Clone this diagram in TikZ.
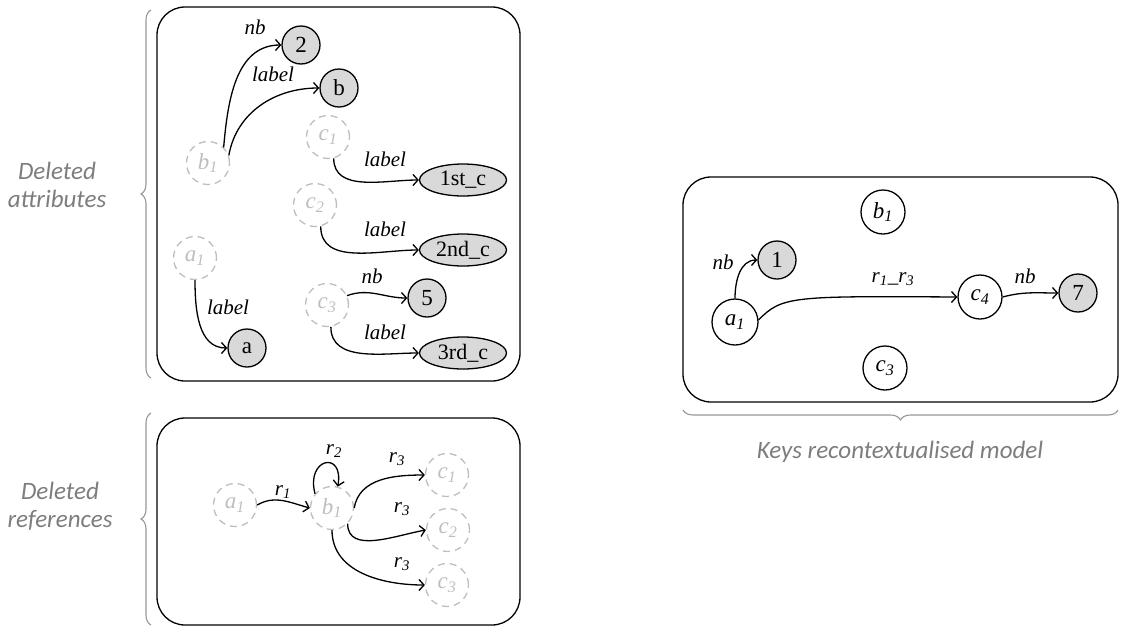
\documentclass[tikz,border=0pt]{standalone}
\usepackage{fontspec}
\setmainfont{Liberation Serif}
\newfontfamily\calfont{Carlito}
\usetikzlibrary{arrows.meta,shapes.geometric,decorations.pathreplacing}
\definecolor{lgray}{RGB}{217,217,217}
\definecolor{dgray}{RGB}{190,190,190}
\definecolor{bgray}{RGB}{150,150,150}
\definecolor{tgray}{RGB}{125,125,125}
\begin{document}
\begin{tikzpicture}[x=1pt,y=1pt,
  box/.style={draw=black,line width=1.3pt,rounded corners=28pt},
  brc/.style={draw=bgray,line width=1.1pt,decorate,decoration={brace,amplitude=10pt}},
  side/.style={font=\fontsize{25}{28}\selectfont\calfont\itshape,text=tgray,align=center},
  val/.style={circle,draw=black,line width=1.3pt,fill=lgray,minimum size=38pt,inner sep=0pt,font=\fontsize{23}{24}\selectfont},
  ell/.style={ellipse,draw=black,line width=1.3pt,fill=lgray,minimum width=87pt,minimum height=32pt,inner sep=0pt,font=\fontsize{22}{24}\selectfont},
  del/.style={circle,draw=dgray,line width=1.3pt,dash pattern=on 7pt off 5pt,minimum size=43pt,inner sep=0pt,text=dgray,font=\fontsize{23}{24}\selectfont\itshape},
  obj/.style={circle,draw=black,line width=1.3pt,minimum size=44pt,inner sep=0pt,font=\fontsize{23}{24}\selectfont\itshape},
  edge/.style={draw=black,line width=1.3pt,-{Straight Barb[length=5pt,width=11pt]}},
  lbl/.style={font=\fontsize{21}{22}\selectfont\itshape,inner sep=0pt}
]
\useasboundingbox (0,0) rectangle (1126,-627);

% containers
\draw[box] (157,-7) rectangle (520,-381);
\draw[box] (157,-418) rectangle (520,-625);
\draw[box] (683,-177) rectangle (1118,-402);

% braces
\draw[brc] (151,-378) -- (151,-10);
\draw[brc] (151,-625) -- (151,-413);
\draw[brc] (1118,-410) -- (683,-410);

\node[side] (tattr) at (57,-185) {Deleted\\attributes};
\node[side] (tref) at (60,-506) {Deleted\\references};
\node[side] (tkeys) at (900,-452) {Keys recontextualised model};

% ---- deleted attributes
\node[del] (ab1) at (208,-163) {b\textsubscript{1}};
\node[val] (a2) at (301,-45) {2};
\node[val] (ab) at (339,-88) {b};
\node[del] (ac1) at (328,-137) {c\textsubscript{1}};
\node[ell] (a1st) at (463,-180) {1st\_c};
\node[del] (ac2) at (315,-205) {c\textsubscript{2}};
\node[ell] (a2nd) at (463,-250) {2nd\_c};
\node[del] (aa1) at (195,-258) {a\textsubscript{1}};
\node[val] (aa) at (247,-348) {a};
\node[del] (ac3) at (327,-305) {c\textsubscript{3}};
\node[val] (a5) at (427,-298) {5};
\node[ell] (a3rd) at (463,-353) {3rd\_c};

\draw[edge] (ab1.45) to[out=85,in=180] (a2.west);
\draw[edge] (ab1.20) to[out=80,in=180] (ab.west);
\draw[edge] (ac1.285) to[out=270,in=180] (a1st.west);
\draw[edge] (ac2.285) to[out=270,in=180] (a2nd.west);
\draw[edge] (aa1.south) to[out=270,in=180] (aa.west);
\draw[edge] (ac3.25) to[out=20,in=180] (a5.west);
\draw[edge] (ac3.280) to[out=270,in=180] (a3rd.west);

\node[lbl] (l1) at (255,-27) {nb};
\node[lbl] (l2) at (273,-74) {label};
\node[lbl] (l3) at (385,-159) {label};
\node[lbl] (l4) at (385,-229) {label};
\node[lbl] (l5) at (228,-307) {label};
\node[lbl] (l6) at (372,-276) {nb};
\node[lbl] (l7) at (385,-332) {label};

% ---- deleted references
\node[del] (ra1) at (235,-505) {a\textsubscript{1}};
\node[del] (rb1) at (332,-508) {b\textsubscript{1}};
\node[del] (rc1) at (447,-475) {c\textsubscript{1}};
\node[del] (rc2) at (448,-530) {c\textsubscript{2}};
\node[del] (rc3) at (447,-585) {c\textsubscript{3}};

\draw[edge] (ra1.east) to[out=30,in=165] (rb1.west);
\draw[edge] (rb1.140) to[out=105,in=80,looseness=4] (rb1.75);
\draw[edge] (rb1.east) to[out=80,in=180] (rc1.west);
\draw[edge] (rb1.315) to[out=270,in=190] (rc2.west);
\draw[edge] (rb1.south) to[out=270,in=180] (rc3.west);

\node[lbl] (m1) at (283,-492) {r\textsubscript{1}};
\node[lbl] (m2) at (334,-451) {r\textsubscript{2}};
\node[lbl] (m3) at (397,-459) {r\textsubscript{3}};
\node[lbl] (m4) at (402,-509) {r\textsubscript{3}};
\node[lbl] (m5) at (402,-564) {r\textsubscript{3}};

% ---- keys recontextualised model
\node[obj] (kb1) at (883,-212) {b\textsubscript{1}};
\node[val] (k1) at (777,-260) {1};
\node[obj,minimum size=46pt] (ka1) at (735,-322) {a\textsubscript{1}};
\node[obj] (kc4) at (980,-297) {c\textsubscript{4}};
\node[val] (k7) at (1078,-293) {7};
\node[obj] (kc3) at (885,-368) {c\textsubscript{3}};

\draw[edge] (ka1.north) to[out=90,in=180] (k1.west);
\draw[edge] (ka1.5) .. controls (782,-296) and (792,-296) .. (kc4.west);
\draw[edge] (kc4.east) to[out=15,in=180] (k7.west);

\node[lbl] (n1) at (723,-262) {nb};
\node[lbl] (n2) at (893,-279) {r\textsubscript{1}\_r\textsubscript{3}};
\node[lbl] (n3) at (1025,-276) {nb};
\end{tikzpicture}
\end{document}
